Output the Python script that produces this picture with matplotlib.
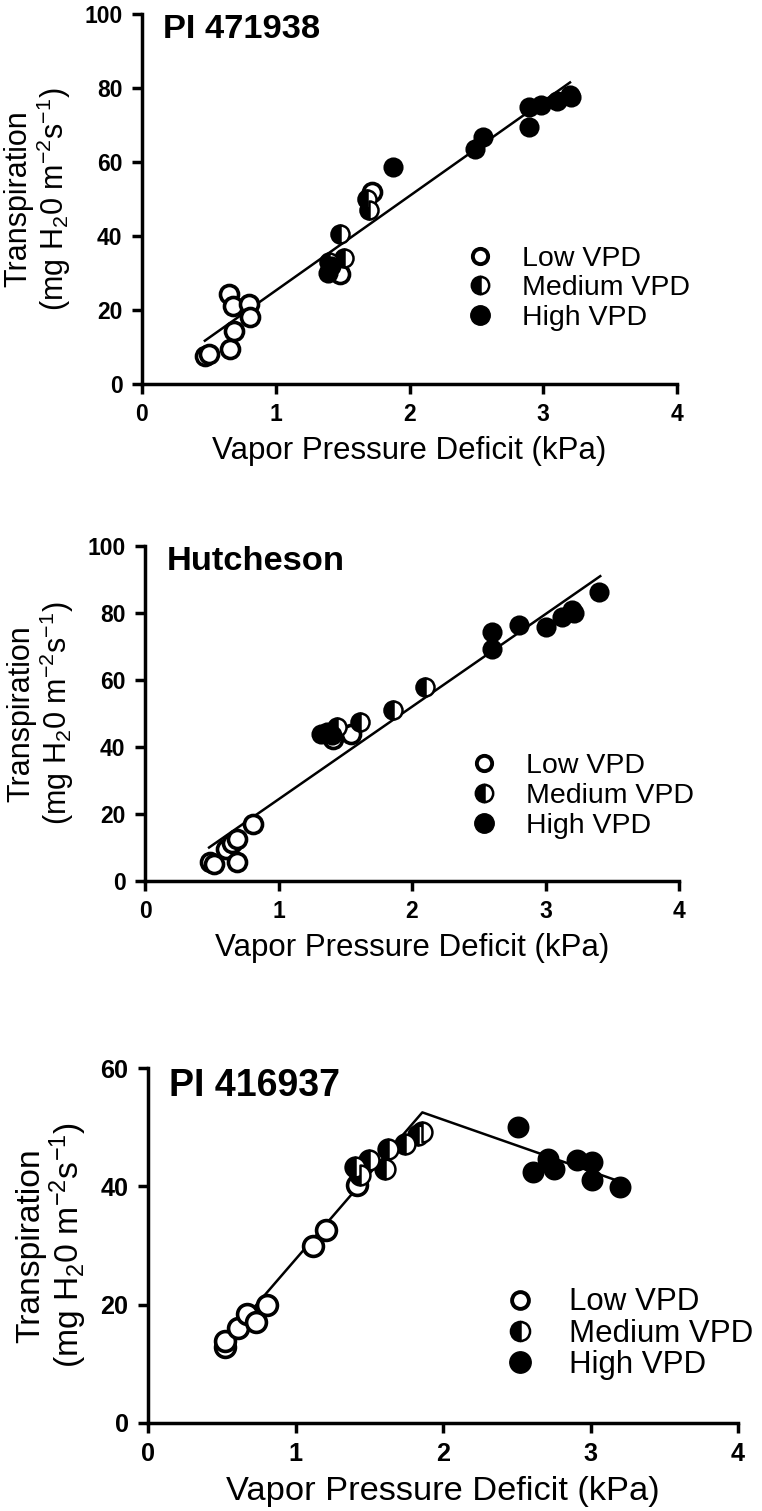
import matplotlib
matplotlib.use("Agg")
import matplotlib.pyplot as plt
from matplotlib.lines import Line2D

plt.rcParams['font.family'] = ['Liberation Sans', 'DejaVu Sans']
plt.rcParams['mathtext.default'] = 'regular'

# ---------------- Data ----------------
# Panel 1: PI 471938
p1_low_x = [0.47, 0.50, 0.66, 0.69, 0.65, 0.68, 0.80, 0.81, 1.48, 1.72]
p1_low_y = [7.7, 8.2, 9.5, 14.4, 24.3, 21.2, 21.6, 18.0, 29.7, 52.0]
p1_med_x = [1.40, 1.51, 1.48, 1.68, 1.70]
p1_med_y = [33.0, 34.0, 40.5, 50.0, 47.0]
p1_high_x = [1.39, 1.41, 1.88, 2.49, 2.55, 2.89, 2.89, 2.98, 3.10, 3.20, 3.21]
p1_high_y = [30.0, 32.0, 58.6, 63.5, 66.7, 69.4, 75.0, 75.5, 76.5, 78.0, 77.5]
p1_fit_x = [0.47, 3.20]
p1_fit_y = [11.7, 81.5]

# Panel 2: Hutcheson
p2_low_x = [0.49, 0.52, 0.61, 0.65, 0.69, 0.69, 0.81, 1.41, 1.54]
p2_low_y = [5.7, 5.2, 9.7, 11.2, 12.6, 5.7, 17.1, 42.5, 44.0]
p2_med_x = [1.44, 1.61, 1.86, 2.10]
p2_med_y = [46.0, 47.5, 51.0, 58.0]
p2_high_x = [1.32, 1.36, 1.40, 2.60, 2.60, 2.80, 3.00, 3.12, 3.21, 3.20, 3.40]
p2_high_y = [44.0, 44.5, 43.5, 69.4, 74.4, 76.4, 75.9, 78.9, 79.9, 81.0, 86.4]
p2_fit_x = [0.48, 3.41]
p2_fit_y = [10.0, 91.0]

# Panel 3: PI 416937
p3_low_x = [0.52, 0.52, 0.61, 0.67, 0.73, 0.81, 1.12, 1.21, 1.42]
p3_low_y = [12.9, 13.8, 16.0, 18.5, 17.1, 19.9, 30.0, 32.6, 40.2]
p3_med_x = [1.40, 1.44, 1.50, 1.61, 1.63, 1.74, 1.83, 1.86]
p3_med_y = [43.3, 42.0, 44.4, 43.0, 46.3, 47.2, 48.6, 49.2]
p3_high_x = [2.51, 2.61, 2.71, 2.75, 2.91, 3.01, 3.01, 3.20]
p3_high_y = [50.1, 42.4, 44.7, 43.0, 44.4, 44.1, 41.0, 39.9]
p3_fit_x = [0.50, 1.86, 3.20]
p3_fit_y = [13.2, 52.5, 40.8]

titles = ["PI 471938", "Hutcheson", "PI 416937"]
y_maxes = [100, 100, 60]
y_ticks = [[0, 20, 40, 60, 80, 100], [0, 20, 40, 60, 80, 100], [0, 20, 40, 60]]
x_ticks = [0, 1, 2, 3, 4]
legend_labels = ["Low VPD", "Medium VPD", "High VPD"]

panels = [
    (p1_low_x, p1_low_y, p1_med_x, p1_med_y, p1_high_x, p1_high_y, p1_fit_x, p1_fit_y),
    (p2_low_x, p2_low_y, p2_med_x, p2_med_y, p2_high_x, p2_high_y, p2_fit_x, p2_fit_y),
    (p3_low_x, p3_low_y, p3_med_x, p3_med_y, p3_high_x, p3_high_y, p3_fit_x, p3_fit_y),
]

# ---------------- Figure ----------------
W, H = 762, 1511
fig = plt.figure(figsize=(W / 100, H / 100), dpi=100)

# pixel boxes: left, right, top, bottom
boxes = [(142, 677, 14, 384), (145, 679, 546, 881), (148, 738, 1068, 1423)]
scales = [1.0, 1.0, 1.1]
legend_anchor = [(0.578, 0.405), (0.581, 0.415), (0.578, 0.417)]
legend_pad = [0.87, 0.87, 0.97]
legend_spacing = [0.13, 0.13, 0.04]
legend_font = [20.5, 20.5, 22.5]
title_x = [0.04, 0.04, 0.035]
title_fs = [24.8, 24.8, 27]

for i, (box, data) in enumerate(zip(boxes, panels)):
    l, r, t, b = box
    s = scales[i]
    ms = 13 * s
    ax = fig.add_axes([l / W, 1 - b / H, (r - l) / W, (b - t) / H])
    lx, ly, mx, my, hx, hy, fx, fy = data
    ax.plot(fx, fy, color='black', lw=1.8, zorder=2)
    ax.plot(lx, ly, 'o', ms=ms, mfc='white', mec='black', mew=2.6, zorder=3)
    ax.plot(mx, my, 'o', ms=ms, fillstyle='left', mfc='black', mfcalt='white',
            mec='black', mew=1.8, zorder=3)
    ax.plot(hx, hy, 'o', ms=ms, mfc='black', mec='black', mew=1.5, zorder=3)

    ax.set_xlim(0, 4)
    ax.set_ylim(0, y_maxes[i])
    ax.set_xticks(x_ticks)
    ax.set_yticks(y_ticks[i])
    for sp in ['top', 'right']:
        ax.spines[sp].set_visible(False)
    for sp in ['left', 'bottom']:
        ax.spines[sp].set_linewidth(2.5)
    ax.tick_params(width=2.5, length=7, labelsize=16.5 * s, pad=7)
    for lab in ax.get_xticklabels() + ax.get_yticklabels():
        lab.set_fontweight('bold')
    ax.patch.set_alpha(0)

    ax.text(title_x[i], 1.0, titles[i], transform=ax.transAxes, fontsize=title_fs[i],
            fontweight='bold', va='top', ha='left')
    ax.set_xlabel("Vapor Pressure Deficit (kPa)", fontsize=22.5 * s, labelpad=7)
    ax.set_ylabel("Transpiration\n(mg H$_2$0 m$^{-2}$s$^{-1}$)", fontsize=22 * s,
                  labelpad=8, linespacing=1.05)

    handles = [
        Line2D([], [], ls='none', marker='o', ms=11 * s, mfc='white', mec='black', mew=2.8),
        Line2D([], [], ls='none', marker='o', ms=12.5 * s, fillstyle='left', mfc='black',
               mfcalt='white', mec='black', mew=1.8),
        Line2D([], [], ls='none', marker='o', ms=14 * s, mfc='black', mec='black'),
    ]
    ax.legend(handles, legend_labels, loc='upper left', bbox_to_anchor=legend_anchor[i],
              frameon=False, fontsize=legend_font[i], handletextpad=legend_pad[i],
              labelspacing=legend_spacing[i], borderaxespad=0, handlelength=1.2)

fig.savefig("out.png", dpi=100)
